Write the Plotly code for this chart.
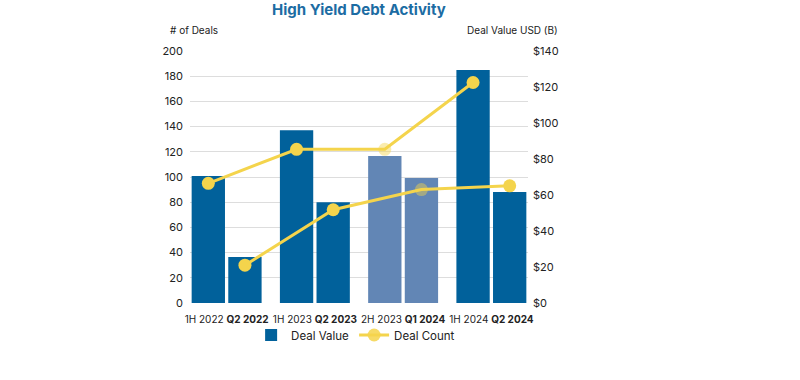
import plotly.graph_objects as go

# ---- data ----
first_periods = ["1H 2022", "1H 2023", "2H 2023", "1H 2024"]
second_periods = ["Q2 2022", "Q2 2023", "Q1 2024", "Q2 2024"]
first_value = [70.6, 96.0, 81.7, 129.4]      # Deal Value USD (B)
second_value = [25.6, 56.0, 69.4, 61.7]
first_count = [95, 122, 122, 175]            # # of Deals
second_count = [30, 74, 90, 93]
highlighted = ["2H 2023", "Q1 2024"]

left_ticks = list(range(0, 201, 20))
right_ticks = list(range(0, 141, 20))

# ---- style ----
BLUE = "#01619B"
BLUE_FADED = "#6286B5"
YELLOW = "#F4D44C"
TEXT = "#222222"
FONT = "Inter, Lato, Arial, sans-serif"

groups = [f"{a} <b>{b}</b>" for a, b in zip(first_periods, second_periods)]


def bar_colors(periods):
    return [BLUE_FADED if p in highlighted else BLUE for p in periods]


def marker_opacity(periods):
    return [0.45 if p in highlighted else 1.0 for p in periods]


fig = go.Figure()

fig.add_trace(go.Bar(
    x=groups, y=first_value, name="Deal Value", offsetgroup="a",
    legendgroup="value", marker=dict(color=bar_colors(first_periods), line=dict(width=0)),
    yaxis="y", legendrank=1,
))
fig.add_trace(go.Bar(
    x=groups, y=second_value, name="Deal Value", offsetgroup="b",
    legendgroup="value", showlegend=False,
    marker=dict(color=bar_colors(second_periods), line=dict(width=0)),
    yaxis="y",
))
fig.add_trace(go.Scatter(
    x=groups, y=first_count, name="Deal Count", offsetgroup="a",
    legendgroup="count", mode="lines+markers", yaxis="y2", legendrank=2,
    line=dict(color=YELLOW, width=3),
    marker=dict(color=YELLOW, size=13, opacity=marker_opacity(first_periods)),
))
fig.add_trace(go.Scatter(
    x=groups, y=second_count, name="Deal Count", offsetgroup="b",
    legendgroup="count", showlegend=False, mode="lines+markers", yaxis="y2",
    line=dict(color=YELLOW, width=3),
    marker=dict(color=YELLOW, size=13, opacity=marker_opacity(second_periods)),
))

fig.update_layout(
    width=800, height=380,
    margin=dict(l=190, r=272, t=51, b=77),
    paper_bgcolor="white", plot_bgcolor="white",
    font=dict(family=FONT, size=11, color=TEXT),
    barmode="group", bargap=0.17, bargroupgap=0.09,
    scattermode="group", scattergap=0.17,
    showlegend=True,
    legend=dict(orientation="h", x=0.49, xanchor="center", y=-0.127, yanchor="middle",
                font=dict(size=11.5, color=TEXT), traceorder="normal",
                bgcolor="rgba(0,0,0,0)", itemwidth=30),
    xaxis=dict(type="category", range=[-0.415, 3.415], showgrid=False, zeroline=False,
               showline=False, ticks="", tickangle=0, automargin=False,
               ticklabelstandoff=9,
               tickfont=dict(size=10, color=TEXT)),
    yaxis=dict(side="right", range=[0, 140], tickvals=right_ticks,
               ticktext=[f"${v}" for v in right_ticks], showgrid=False,
               zeroline=False, showline=False, ticks="", ticklabelstandoff=4,
               automargin=False, tickfont=dict(size=11, color=TEXT)),
    yaxis2=dict(side="left", overlaying="y", range=[0, 200], tickvals=left_ticks,
                showgrid=True, gridcolor="#DDDDDD", gridwidth=1,
                zeroline=False, showline=False, ticks="", ticklabelstandoff=6,
                automargin=False, tickfont=dict(size=11, color=TEXT)),
    annotations=[
        dict(text="<b>High Yield Debt Activity</b>", xref="paper", yref="paper",
             x=0.5, y=1.0, yshift=42, xanchor="center", yanchor="middle", showarrow=False,
             font=dict(size=15, color="#1C6CA3", family=FONT)),
        dict(text="# of Deals", xref="paper", yref="paper", x=0, xshift=-22, y=1.0,
             yshift=21, xanchor="left", yanchor="middle", showarrow=False,
             font=dict(size=10, color=TEXT)),
        dict(text="Deal Value USD (B)", xref="paper", yref="paper", x=1, xshift=32, y=1.0,
             yshift=21, xanchor="right", yanchor="middle", showarrow=False,
             font=dict(size=10, color=TEXT)),
    ],
)

fig.write_html("out.html", config={"displayModeBar": False},
               post_script="document.body.style.margin='0px';")
